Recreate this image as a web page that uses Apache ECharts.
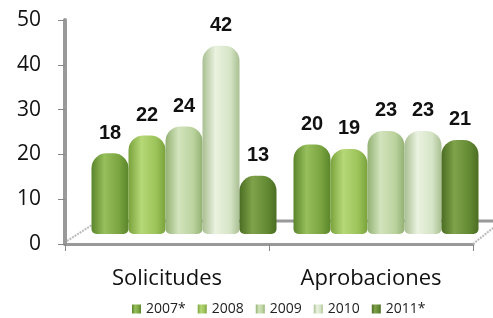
<!DOCTYPE html>
<html>
<head>
<meta charset="utf-8">
<script src="https://cdn.jsdelivr.net/npm/echarts@6/dist/echarts.min.js"></script>
<style>
  html, body { margin: 0; padding: 0; background: #ffffff; }
  #chart { width: 493px; height: 318px; }
</style>
</head>
<body>
<div id="chart"></div>
<script>
var categories = ['Solicitudes', 'Aprobaciones'];
var years = ['2007*', '2008', '2009', '2010', '2011*'];
var v2007 = [18, 20];
var v2008 = [22, 19];
var v2009 = [24, 23];
var v2010 = [42, 23];
var v2011 = [13, 21];
var yMin = 0, yMax = 50, yStep = 10;

// dark edge, highlight, base
var palette = [
  ['#5a852a', '#97bf5c', '#7aa440'],
  ['#79a23c', '#b6d877', '#9cc35a'],
  ['#93b173', '#d2e3bd', '#bbd39e'],
  ['#a9bf92', '#eaf2e0', '#d5e4c6'],
  ['#4b6d22', '#7fa24a', '#638a33']
];

function cyl(c) {
  return new echarts.graphic.LinearGradient(0, 0, 1, 0, [
    { offset: 0, color: c[0] },
    { offset: 0.35, color: c[1] },
    { offset: 0.75, color: c[2] },
    { offset: 1, color: c[0] }
  ]);
}

var seriesData = [v2007, v2008, v2009, v2010, v2011];
var series = [];
for (var i = 0; i < years.length; i++) {
  series.push({
    name: years[i],
    type: 'bar',
    xAxisIndex: 1,
    yAxisIndex: 1,
    barWidth: 37,
    barGap: '0%',
    z: 3,
    data: seriesData[i],
    itemStyle: {
      color: cyl(palette[i]),
      borderRadius: [15, 15, 5, 5]
    },
    label: {
      show: true,
      position: 'top',
      distance: 10,
      fontFamily: 'Liberation Sans',
      fontWeight: 'bold',
      fontSize: 20,
      color: '#111'
    }
  });
}

var chart = echarts.init(document.getElementById('chart'));
chart.setOption({
  animation: false,
  backgroundColor: '#ffffff',
  grid: [
    { left: 65, right: 20, top: 20, bottom: 74 },
    { left: 83, right: 6, top: 10, bottom: 84 }
  ],
  legend: {
    bottom: 2,
    left: 132,
    padding: 0,
    icon: 'rect',
    itemWidth: 9,
    itemHeight: 9,
    itemGap: 12,
    textStyle: { fontFamily: 'Open Sans', fontSize: 14, color: '#222' },
    data: years
  },
  xAxis: [{
    type: 'category',
    gridIndex: 0,
    data: categories,
    axisLine: { lineStyle: { color: '#999', width: 3 } },
    axisTick: { show: true, length: 7, lineStyle: { color: '#888', width: 1 } },
    axisLabel: { fontFamily: 'Open Sans', fontSize: 22, color: '#111', margin: 24 }
  }, {
    type: 'category',
    gridIndex: 1,
    data: categories,
    show: false
  }],
  yAxis: [{
    type: 'value',
    gridIndex: 0,
    min: yMin,
    max: yMax,
    interval: yStep,
    axisLine: { show: true, lineStyle: { color: '#999', width: 4 } },
    axisTick: { show: true, length: 7, lineStyle: { color: '#888', width: 1 } },
    axisLabel: { fontFamily: 'Open Sans', fontSize: 21, color: '#111', margin: 24 },
    splitLine: { show: false }
  }, {
    type: 'value',
    gridIndex: 1,
    min: yMin,
    max: yMax,
    show: false,
    splitLine: { show: false }
  }],
  graphic: [
    { type: 'line', z: 1, shape: { x1: 92, y1: 221, x2: 493, y2: 221 }, style: { stroke: '#999', lineWidth: 3 } },
    { type: 'line', z: 1, shape: { x1: 67, y1: 241, x2: 92, y2: 225 }, style: { stroke: '#bbb', lineWidth: 2, lineDash: [2, 1] } },
    { type: 'line', z: 1, shape: { x1: 473, y1: 244, x2: 493, y2: 228 }, style: { stroke: '#bbb', lineWidth: 2, lineDash: [2, 1] } }
  ],
  series: series
});
</script>
</body>
</html>
